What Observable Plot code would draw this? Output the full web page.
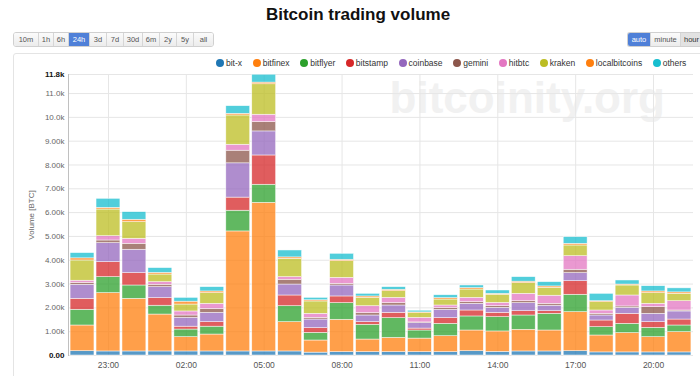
<!DOCTYPE html>
<html>
<head>
<meta charset="utf-8">
<script src="https://cdn.jsdelivr.net/npm/d3@7"></script>
<script src="https://cdn.jsdelivr.net/npm/@observablehq/plot@0.6"></script>
<style>
  html, body { margin: 0; padding: 0; background: #fff; }
  body { width: 700px; height: 376px; position: relative; overflow: hidden; font-family: "Liberation Sans", Arial, sans-serif; }
  #title { position: absolute; top: 5px; left: 358px; transform: translateX(-50%); font-size: 17px; font-weight: bold; color: #111; white-space: nowrap; }
  .btns { position: absolute; top: 32px; height: 15px; display: flex; border-radius: 3px; overflow: hidden; border: 1px solid #d0d0d0; box-sizing: border-box; }
  .btn { box-sizing: border-box; height: 100%; font-size: 7.5px; color: #555; display: flex; align-items: center; justify-content: center; background: linear-gradient(#fbfbfb, #ececec); border-right: 1px solid #d6d6d6; }
  .btn:last-child { border-right: none; }
  .btn.on { background: #4f80d8; color: #fff; }
  .btn.sel { background: #e2e2e2; color: #333; justify-content: flex-start; padding-left: 3px; }
  #panel { position: absolute; left: 13px; top: 53px; width: 720px; height: 400px; border: 1px solid #e4e4e4; border-radius: 3px; box-sizing: border-box; }
  #legend { position: absolute; top: 58px; left: 216px; display: flex; align-items: center; font-size: 8.5px; color: #333; white-space: nowrap; }
  .li { display: flex; align-items: center; margin-right: 10.6px; }
  .dot { width: 8px; height: 8px; border-radius: 50%; margin-right: 2px; }
  #wm { position: absolute; top: 76px; right: 35px; font-size: 44px; line-height: 1; font-weight: bold; color: #f1f1f1; white-space: nowrap; z-index: 0; }
  #chart { position: absolute; left: 0; top: 70px; width: 700px; z-index: 1; }
</style>
</head>
<body>
<div id="title">Bitcoin trading volume</div>
<div id="panel"></div>
<div class="btns" id="rangeBtns" style="left:13px;"></div>
<div class="btns" id="resBtns" style="left:627px; border-right:none; border-radius:3px 0 0 3px;"></div>
<div id="legend"></div>
<div id="wm">bitcoinity.org</div>
<div id="chart"></div>
<script>
// ---- data (thousands of BTC) ----
const hours = ["22:00","23:00","00:00","01:00","02:00","03:00","04:00","05:00","06:00","07:00","08:00","09:00","10:00","11:00","12:00","13:00","14:00","15:00","16:00","17:00","18:00","19:00","20:00","21:00"];
const tickHours = ["23:00","02:00","05:00","08:00","11:00","14:00","17:00","20:00"];
const exchanges = ["bit-x","bitfinex","bitflyer","bitstamp","coinbase","gemini","hitbtc","kraken","localbitcoins","others"];
const colors = ["#1f77b4","#ff7f0e","#2ca02c","#d62728","#9467bd","#8c564b","#e377c2","#bcbd22","#ff7f0e","#17becf"];

const bitx          = [.18,.17,.17,.17,.17,.17,.17,.17,.17,.12,.14,.14,.14,.14,.14,.18,.15,.17,.17,.18,.13,.13,.13,.13];
const bitfinex      = [1.08,2.45,2.21,1.55,.60,.71,5.04,6.24,1.23,.51,1.36,.53,.60,.57,.67,.87,.86,.91,.88,1.64,.71,.81,.64,.85];
const bitflyer      = [.66,.67,.56,.37,.32,.33,.87,.76,.67,.32,.70,.62,.83,.34,.52,.59,.60,.60,.70,.73,.35,.39,.39,.28];
const bitstamp      = [.46,.63,.52,.32,.12,.19,.55,1.23,.45,.20,.28,.11,.22,.08,.24,.25,.18,.18,.11,.57,.28,.42,.24,.25];
const coinbase      = [.59,.80,.98,.46,.37,.39,1.44,1.01,.46,.36,.46,.28,.31,.23,.35,.28,.21,.34,.23,.34,.21,.25,.35,.34];
const gemini        = [.08,.11,.25,.10,.10,.16,.53,.39,.20,.07,.07,.10,.10,.03,.07,.07,.07,.08,.08,.14,.07,.06,.28,.04];
const hitbtc        = [.09,.18,.21,.11,.17,.22,.25,.31,.11,.17,.25,.29,.22,.19,.11,.18,.14,.31,.34,.57,.14,.46,.14,.39];
const kraken        = [.85,1.12,.70,.32,.29,.45,1.23,1.28,.77,.52,.70,.35,.28,.20,.25,.35,.34,.45,.33,.45,.35,.42,.45,.31];
const localbitcoins = [.09,.07,.10,.07,.12,.07,.07,.07,.06,.05,.06,.06,.06,.03,.06,.06,.04,.06,.06,.07,.04,.04,.07,.06];
const others        = [.22,.38,.32,.20,.16,.18,.32,.33,.29,.10,.25,.11,.11,.07,.12,.11,.14,.19,.18,.28,.31,.17,.22,.17];

const rangeLabels = ["10m","1h","6h","24h","3d","7d","30d","6m","2y","5y","all"];
const resLabels = ["auto","minute","hour"];

// ---- UI chrome ----
const rw = [25,15,15,21,17,17,19,17,17,17,19];
const rb = document.getElementById("rangeBtns");
rangeLabels.forEach((t, i) => {
  const d = document.createElement("div");
  d.className = "btn" + (t === "24h" ? " on" : "");
  d.style.width = rw[i] + "px";
  d.textContent = t;
  rb.appendChild(d);
});
const resW = [23,30,26];
const resb = document.getElementById("resBtns");
resLabels.forEach((t, i) => {
  const d = document.createElement("div");
  d.className = "btn" + (t === "auto" ? " on" : t === "hour" ? " sel" : "");
  d.style.width = resW[i] + "px";
  d.textContent = t;
  resb.appendChild(d);
});
const lg = document.getElementById("legend");
exchanges.forEach((e, i) => {
  const item = document.createElement("div");
  item.className = "li";
  item.innerHTML = `<span class="dot" style="background:${colors[i]}"></span><span>${e}</span>`;
  lg.appendChild(item);
});

// ---- tidy table ----
const seriesValues = [bitx, bitfinex, bitflyer, bitstamp, coinbase, gemini, hitbtc, kraken, localbitcoins, others];
const data = [];
hours.forEach((h, i) => {
  exchanges.forEach((e, j) => data.push({hour: h, exchange: e, value: seriesValues[j][i]}));
});
const totals = hours.map((h, i) => d3.sum(seriesValues, s => s[i]));
const yMax = Math.ceil(d3.max(totals) * 10) / 10;
const yTicks = d3.range(1, Math.floor(yMax) + 1).filter(v => v < yMax - 0.3);
const fmt = d => d === 0 ? "0.00" : (d >= 10 ? d.toFixed(1) : d.toFixed(2)) + "k";

const chart = Plot.plot({
  width: 700,
  height: 306,
  marginLeft: 68,
  marginRight: 7,
  marginTop: 4,
  marginBottom: 21,
  style: {background: "transparent", fontFamily: "Liberation Sans, Arial, sans-serif", overflow: "visible"},
  x: {type: "band", domain: hours, padding: 0.08, round: false},
  y: {domain: [0, yMax]},
  color: {domain: exchanges, range: colors},
  marks: [
    Plot.gridY([0, ...yTicks, yMax], {stroke: "#e6e6e6", strokeOpacity: 1}),
    Plot.gridX(tickHours, {stroke: "#e6e6e6", strokeOpacity: 1}),
    Plot.barY(data, {x: "hour", y: "value", fill: "exchange", fillOpacity: 0.75, stroke: "white", strokeWidth: 0.6, strokeOpacity: 0.8}),
    Plot.frame({anchor: "left", stroke: "#c0c0c0"}),
    Plot.axisY(yTicks, {tickSize: 0, tickPadding: 4, tickFormat: fmt, fontSize: 8, fill: "#666",
      label: "Volume [BTC]", labelAnchor: "center", labelOffset: 40, labelArrow: "none"}),
    Plot.axisY([0, yMax], {tickSize: 0, tickPadding: 4, tickFormat: fmt, fontSize: 8, fontWeight: "bold", fill: "#111", label: null}),
    Plot.axisX(tickHours, {tickSize: 0, tickPadding: 6, fontSize: 8.5, fill: "#555", label: null})
  ]
});
document.getElementById("chart").appendChild(chart);
</script>
</body>
</html>
